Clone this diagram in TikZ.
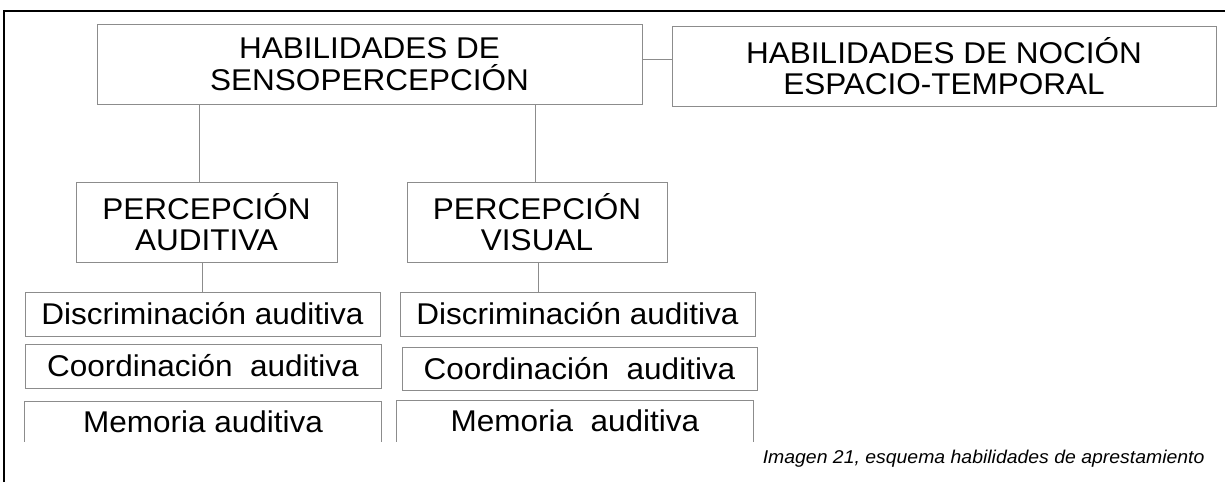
\documentclass[tikz,border=0pt]{standalone}
\usepackage{fontspec}
\setmainfont{Liberation Sans}[FakeStretch=1.05]
\usepackage{xcolor}
\usepackage{tikz}
\definecolor{boxline}{RGB}{140,140,140}

\begin{document}
\begin{tikzpicture}[
    x=1pt, y=-1pt,
    font=\fontsize{30}{31.5}\selectfont,
    box/.style={draw=boxline, line width=1pt, align=center, inner sep=2pt},
    bigbox/.style={box, minimum height=80pt},
    item/.style={box, minimum width=355pt, minimum height=44pt},
    openitem/.style={item, draw=none, minimum width=356pt, minimum height=40pt},
    link/.style={draw=boxline, line width=1pt}
]
\useasboundingbox (0,0) rectangle (1225,482);

% Page frame (top and left edge only)
\draw[line width=2pt] (3.5,482) -- (3.5,11) -- (1225,11);

% Top row
\node[bigbox, minimum width=545pt] (senso) at (369.5,64) {HABILIDADES DE\\SENSOPERCEPCIÓN};
\node[bigbox, minimum width=544pt] (nocion) at (944,66) {HABILIDADES DE NOCIÓN\\ESPACIO-TEMPORAL};
\draw[link] ([yshift=5pt]senso.east) -- ([yshift=5pt]senso.east -| nocion.west);

% Perception branches
\node[bigbox, minimum width=261pt] (p-aud) at (206.5,222) {PERCEPCIÓN\\AUDITIVA};
\node[bigbox, minimum width=260pt] (p-vis) at (537,222) {PERCEPCIÓN\\VISUAL};
\draw[link] ([xshift=-7pt]p-aud.north) -- ([xshift=-7pt]p-aud.north |- senso.south);
\draw[link] ([xshift=-2pt]p-vis.north) -- ([xshift=-2pt]p-vis.north |- senso.south);

% Auditory column
\node[item] (disc-aud) at (202.5,314) {Discriminación auditiva};
\node[item, minimum width=356pt] (coord-aud) at (203,366) {Coordinación\ \ auditiva};
\node[openitem, minimum height=39pt] (mem-aud) at (203,421.5) {Memoria auditiva};
\draw[link] ([xshift=-4.5pt]p-aud.south) -- ([xshift=-4.5pt]p-aud.south |- disc-aud.north);
\draw[link] (mem-aud.south west) -- (mem-aud.north west) -- (mem-aud.north east) -- (mem-aud.south east);

% Visual column
\node[item] (disc-vis) at (577.5,314) {Discriminación auditiva};
\node[item, minimum height=43pt] (coord-vis) at (579.5,368.5) {Coordinación\ \ auditiva};
\node[openitem] (mem-vis) at (575,421) {Memoria\ \ auditiva};
\draw[link] ([xshift=1pt]p-vis.south) -- ([xshift=1pt]p-vis.south |- disc-vis.north);
\draw[link] (mem-vis.south west) -- (mem-vis.north west) -- (mem-vis.north east) -- (mem-vis.south east);

% Caption
\node[font=\fontsize{18.5}{20}\itshape\selectfont, anchor=base east] (caption) at (1208,463) {Imagen 21, esquema habilidades de aprestamiento};
\end{tikzpicture}
\end{document}
